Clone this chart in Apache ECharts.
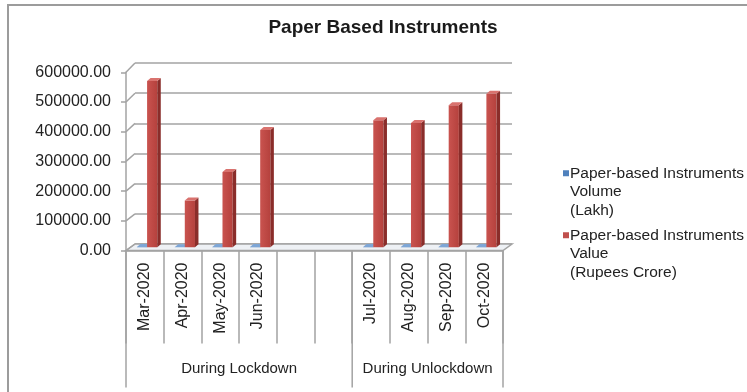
<!DOCTYPE html>
<html>
<head>
<meta charset="utf-8">
<script src="https://cdn.jsdelivr.net/npm/echarts@6/dist/echarts.min.js"></script>
<style>
  html, body { margin: 0; padding: 0; background: #fff; }
  #chart { width: 747px; height: 392px; }
</style>
</head>
<body>
<div id="chart"></div>
<script>
// Monthly slots; the two blank slots separate the lockdown and unlockdown periods
const months = ['Mar-2020', 'Apr-2020', 'May-2020', 'Jun-2020', ' ', '  ',
                'Jul-2020', 'Aug-2020', 'Sep-2020', 'Oct-2020'];
const volumeLakh = [930, 380, 620, 840, null, null, 930, 870, 960, 1000];
const valueCrore = [555000, 156000, 251000, 392000, null, null, 424000, 415000, 474000, 513000];
const yTicks = [0, 100000, 200000, 300000, 400000, 500000, 600000];
const groupLabels = ['During Lockdown', 'During Unlockdown'];
const groupSpans = [6, 4];
const seriesNames = ['Paper-based Instruments Volume (Lakh)', 'Paper-based Instruments Value (Rupees Crore)'];
const legendLines = [
  ['Paper-based Instruments', 'Volume', '(Lakh)'],
  ['Paper-based Instruments', 'Value', '(Rupees Crore)']
];

const FONT = "'Liberation Sans', Arial, sans-serif";
const GRID_GRAY = '#a3a3a3';
const BAR_W = 0.27;
const DEPTH_X = 3.5, DEPTH_Y = 3;

const blueFaces = {
  front: new echarts.graphic.LinearGradient(0, 0, 1, 0, [
    { offset: 0, color: '#5b8cc6' }, { offset: 1, color: '#4677b2' }]),
  side: '#2f5a8c',
  top: '#7ea6d6'
};
const redFaces = {
  front: new echarts.graphic.LinearGradient(0, 0, 1, 0, [
    { offset: 0, color: '#c9534f' }, { offset: 1, color: '#b5413d' }]),
  side: '#8a2d2a',
  top: '#d9726e'
};

// Draws a column with a front face, a shaded right side and a lit top face
function boxBar(offset, faces) {
  return function (params, api) {
    const v = api.value(1);
    if (v == null || isNaN(v)) return null;
    const i = api.value(0);
    const slot = api.size([1, 0])[0];
    const top = api.coord([i, v]);
    const base = api.coord([i, 0]);
    const x0 = top[0] + offset * slot;
    const w = BAR_W * slot;
    const x1 = x0 + w;
    const yt = top[1], yb = base[1];
    return {
      type: 'group',
      children: [
        { type: 'rect', shape: { x: x0, y: yt, width: w, height: Math.max(yb - yt, 0) },
          style: { fill: faces.front } },
        { type: 'polygon', shape: { points: [[x1, yt], [x1 + DEPTH_X, yt - DEPTH_Y], [x1 + DEPTH_X, yb - DEPTH_Y], [x1, yb]] },
          style: { fill: faces.side } },
        { type: 'polygon', shape: { points: [[x0, yt], [x0 + DEPTH_X, yt - DEPTH_Y], [x1 + DEPTH_X, yt - DEPTH_Y], [x1, yt]] },
          style: { fill: faces.top } }
      ]
    };
  };
}

const chart = echarts.init(document.getElementById('chart'), null, { renderer: 'canvas' });

const valueAxisBase = { type: 'value', min: 0, max: 600000, interval: 100000 };

chart.setOption({
  animation: false,
  backgroundColor: '#fff',
  textStyle: { fontFamily: FONT },
  title: {
    text: 'Paper Based Instruments',
    left: 383, top: 18, padding: 0,
    textAlign: 'center',
    textStyle: { fontFamily: FONT, fontSize: 19, fontWeight: 'bold', color: '#1a1a1a' }
  },
  legend: {
    orient: 'vertical',
    left: 558, top: 164,
    padding: 0,
    itemGap: 6.5,
    itemWidth: 0, itemHeight: 0,
    icon: 'rect',
    selectedMode: false,
    data: seriesNames,
    formatter: function (name) {
      const k = seriesNames.indexOf(name);
      const l = legendLines[k];
      const sq = k === 0 ? 'sqB' : 'sqR';
      return '{' + sq + '| }{g| }{t|' + l[0] + '}\n{i| }{t|' + l[1] + '}\n{i| }{t|' + l[2] + '}';
    },
    textStyle: {
      fontFamily: FONT, fontSize: 15.5, lineHeight: 18.5, color: '#222',
      rich: {
        sqB: { width: 6, height: 6, backgroundColor: '#4f81bd' },
        sqR: { width: 6, height: 6, backgroundColor: '#c0504d' },
        g: { width: 1 },
        i: { width: 7 },
        t: { fontFamily: FONT, fontSize: 15.5, lineHeight: 18.5, color: '#222' }
      }
    }
  },
  grid: [
    // front plane: value labels and month labels
    { left: 126, right: 244, top: 72.3, bottom: 141.5 },
    // back wall: gridlines
    { left: 135, right: 235, top: 63, bottom: 148 },
    // middle depth: columns
    { left: 130.5, right: 239.5, top: 67.6, bottom: 144.75 }
  ],
  xAxis: [
    {
      type: 'category', gridIndex: 0, data: months,
      axisLine: { show: true, lineStyle: { color: GRID_GRAY, width: 1.5 } },
      axisTick: { show: true, interval: 0, length: 93, lineStyle: { color: GRID_GRAY, width: 1.5 } },
      axisLabel: { interval: 0, rotate: 90, margin: 12, fontFamily: FONT, fontSize: 16, color: '#222' },
      splitLine: { show: false }
    },
    {
      type: 'category', gridIndex: 1, data: months,
      axisLine: { show: false }, axisTick: { show: false }, axisLabel: { show: false }, splitLine: { show: false }
    },
    {
      type: 'category', gridIndex: 2, data: months,
      axisLine: { show: false }, axisTick: { show: false }, axisLabel: { show: false }, splitLine: { show: false }
    }
  ],
  yAxis: [
    Object.assign({}, valueAxisBase, {
      gridIndex: 0,
      axisLine: { show: true, lineStyle: { color: GRID_GRAY, width: 1.5 } },
      axisTick: { show: true, length: 5, lineStyle: { color: GRID_GRAY, width: 1.5 } },
      axisLabel: { margin: 15, fontFamily: FONT, fontSize: 16, color: '#222',
                   formatter: v => v.toFixed(2) },
      splitLine: { show: false }
    }),
    Object.assign({}, valueAxisBase, {
      gridIndex: 1,
      axisLine: { show: false }, axisTick: { show: false }, axisLabel: { show: false },
      splitLine: { show: true, lineStyle: { color: GRID_GRAY, width: 1.5 } }
    }),
    Object.assign({}, valueAxisBase, {
      gridIndex: 2,
      axisLine: { show: false }, axisTick: { show: false }, axisLabel: { show: false }, splitLine: { show: false }
    })
  ],
  series: [
    {
      name: seriesNames[0], type: 'custom', xAxisIndex: 2, yAxisIndex: 2, z: 5,
      itemStyle: { color: '#4f81bd' },
      renderItem: boxBar(-0.33, blueFaces),
      encode: { x: 0, y: 1 },
      data: volumeLakh.map((v, i) => [i, v == null ? NaN : v])
    },
    {
      name: seriesNames[1], type: 'custom', xAxisIndex: 2, yAxisIndex: 2, z: 6,
      itemStyle: { color: '#c0504d' },
      renderItem: boxBar(-0.06, redFaces),
      encode: { x: 0, y: 1 },
      data: valueCrore.map((v, i) => [i, v == null ? NaN : v])
    }
  ]
});

// Perspective pieces tied to the axes: side-wall slants, floor, period dividers and labels
function drawFrame() {
  const fy = v => chart.convertToPixel({ yAxisIndex: 0 }, v);
  const by = v => chart.convertToPixel({ yAxisIndex: 1 }, v);
  const fx = i => chart.convertToPixel({ xAxisIndex: 0 }, i);
  const bx = i => chart.convertToPixel({ xAxisIndex: 1 }, i);
  const n = months.length;
  const fBand = fx(1) - fx(0), bBand = bx(1) - bx(0);
  const fL = fx(0) - fBand / 2, fR = fx(n - 1) + fBand / 2;
  const bL = bx(0) - bBand / 2, bR = bx(n - 1) + bBand / 2;
  const f0 = fy(0), b0 = by(0);
  const line = { stroke: GRID_GRAY, lineWidth: 1.5 };
  const els = [];

  // chart frame (top and left edges)
  els.push({ type: 'rect', z: 0, shape: { x: 8, y: 5, width: 800, height: 500 },
             style: { fill: null, stroke: '#9c9c9c', lineWidth: 2 } });

  // floor
  els.push({ type: 'polygon', z: 1,
             shape: { points: [[fL, f0], [bL, b0], [bR, b0], [fR, f0]] },
             style: { fill: '#eef1f5', stroke: GRID_GRAY, lineWidth: 1.5 } });

  // slanted side-wall segments at every gridline
  yTicks.forEach(v => {
    els.push({ type: 'line', z: 1, shape: { x1: fL, y1: fy(v), x2: bL, y2: by(v) }, style: line });
  });

  // period dividers and labels
  let start = 0;
  const bounds = [0];
  groupSpans.forEach(s => { start += s; bounds.push(start); });
  bounds.forEach(k => {
    const x = fL + k * fBand;
    els.push({ type: 'line', z: 1, shape: { x1: x, y1: f0, x2: x, y2: f0 + 137 }, style: line });
  });
  groupLabels.forEach((g, j) => {
    const cx = fL + (bounds[j] + groupSpans[j] / 2) * fBand;
    els.push({ type: 'text', z: 3, x: cx, y: f0 + 118,
               style: { text: g, fontFamily: FONT, fontSize: 15, fill: '#222',
                        align: 'center', verticalAlign: 'middle' } });
  });

  chart.setOption({ graphic: els });
}
drawFrame();
</script>
</body>
</html>
